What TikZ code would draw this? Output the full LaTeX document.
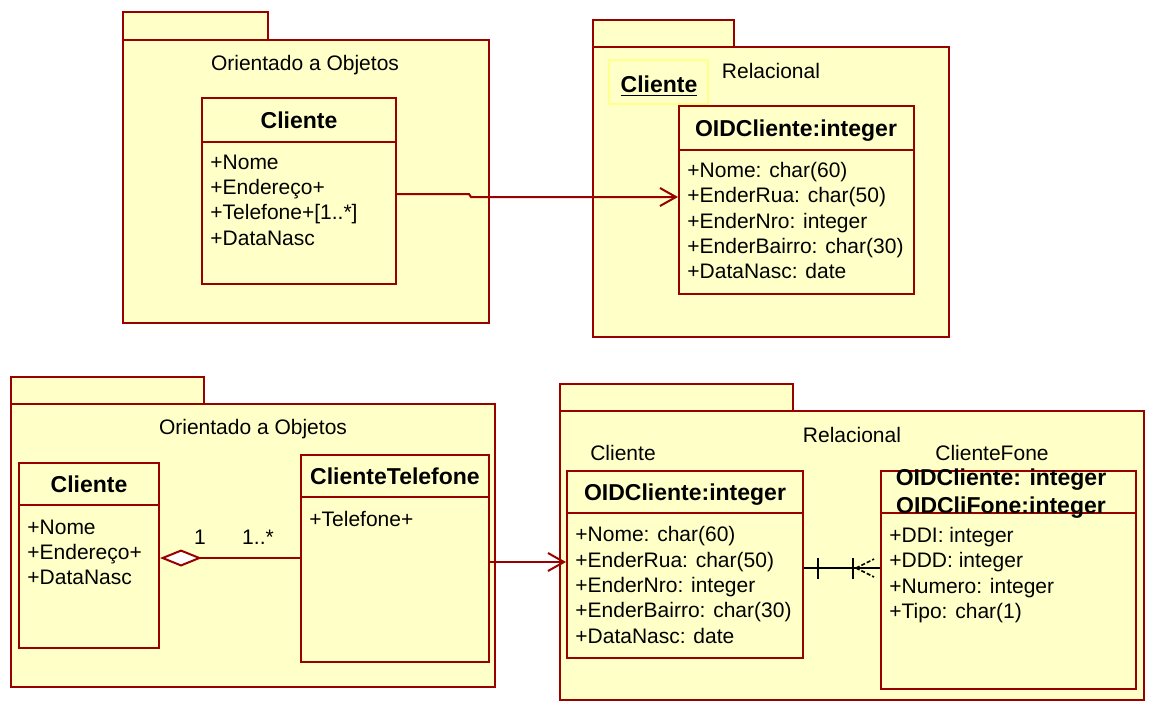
\documentclass[tikz,border=0pt]{standalone}
\usepackage{fontspec}
\setmainfont{Liberation Sans}
\usetikzlibrary{arrows.meta,fit}
\definecolor{umlred}{RGB}{153,0,0}
\definecolor{umlfill}{RGB}{255,255,200}
\definecolor{notebox}{RGB}{255,255,140}
\begin{document}
\begin{tikzpicture}[x=0.5pt, y=-0.5pt] % 1 единица = 1 пиксель, y вниз
\tikzstyle{pkg} = [draw=umlred, fill=umlfill, line width=1pt, inner sep=0pt] % пакет
\tikzstyle{cls} = [draw=umlred, fill=umlfill, line width=1pt, inner sep=0pt] % класс
\tikzstyle{sep} = [draw=umlred, line width=1pt] % разделитель в классе
\tikzstyle{attr} = [anchor=base west, inner sep=0pt, font=\fontsize{10.5}{12}\selectfont] % атрибут
\tikzstyle{ttl} = [anchor=base, inner sep=0pt, font=\bfseries\fontsize{11.5}{13}\selectfont] % имя класса
\tikzstyle{lbl} = [anchor=base, inner sep=0pt, font=\fontsize{10.5}{12}\selectfont] % имя пакета
\tikzstyle{assoc} = [draw=umlred, line width=1pt, -{Straight Barb[length=8pt,width=9pt]}]
\useasboundingbox[fill=white] (0,0) rectangle (1156,714);
% верхний левый пакет
\node[pkg, fit={(123,12)(268,40)}] (tabA) {};
\node[pkg, fit={(123,40)(489,323)}] (pkgA) {};
\node[lbl] (nameA) at (305,70) {Orientado a Objetos};
\node[cls, fit={(202,98)(396,284)}] (cliA) {};
\draw[sep] (cliA.west |- 0,142) -- (cliA.east |- 0,142);
\node[ttl] (ttlA) at (299,128) {Cliente};
\node[attr] (a1) at (210,169) {+Nome};
\node[attr] (a2) at (210,194) {+Endereço+};
\node[attr] (a3) at (210,219) {+Telefone+[1..*]};
\node[attr] (a4) at (210,245) {+DataNasc};
% верхний правый пакет
\node[pkg, fit={(593,20)(734,47)}] (tabB) {};
\node[pkg, fit={(593,47)(949,337)}] (pkgB) {};
\node[lbl] (nameB) at (771,78) {Relacional};
\node[draw=notebox, line width=1pt, inner sep=0pt, fit={(609,60)(708,104)}] (noteB) {};
\node[ttl] (ttlNote) at (659,92) {\underline{Cliente}};
\node[cls, fit={(679,106)(914,294)}] (oidB) {};
\draw[sep] (oidB.west |- 0,150) -- (oidB.east |- 0,150);
\node[ttl] (ttlB) at (796,136) {OIDCliente:integer};
\node[attr] (b1) at (687,177) {+Nome: char(60)};
\node[attr] (b2) at (687,202) {+EnderRua: char(50)};
\node[attr] (b3) at (687,228) {+EnderNro: integer};
\node[attr] (b4) at (687,253) {+EnderBairro: char(30)};
\node[attr] (b5) at (687,278) {+DataNasc: date};
% нижний левый пакет
\node[pkg, fit={(11,377)(204,404)}] (tabC) {};
\node[pkg, fit={(11,404)(495,687)}] (pkgC) {};
\node[lbl] (nameC) at (253,434) {Orientado a Objetos};
\node[cls, fit={(19,463)(159,648)}] (cliC) {};
\draw[sep] (cliC.west |- 0,505) -- (cliC.east |- 0,505);
\node[ttl] (ttlC) at (89,492) {Cliente};
\node[attr] (c1) at (27,534) {+Nome};
\node[attr] (c2) at (27,559) {+Endereço+};
\node[attr] (c3) at (27,584) {+DataNasc};
\node[cls, fit={(301,455)(489,662)}] (telC) {};
\draw[sep] (telC.west |- 0,497) -- (telC.east |- 0,497);
\node[ttl] (ttlTel) at (395,484) {ClienteTelefone};
\node[attr] (t1) at (309,526) {+Telefone+};
% нижний правый пакет
\node[pkg, fit={(560,384)(793,411)}] (tabD) {};
\node[pkg, fit={(560,411)(1144,700)}] (pkgD) {};
\node[lbl] (nameD) at (852,442) {Relacional};
\node[lbl] (nameCli) at (623,460) {Cliente};
\node[lbl] (nameFone) at (992,460) {ClienteFone};
\node[cls, fit={(567,471)(803,658)}] (cliD) {};
\draw[sep] (cliD.west |- 0,513) -- (cliD.east |- 0,513);
\node[ttl] (ttlD) at (685,500) {OIDCliente:integer};
\node[attr] (d1) at (575,541) {+Nome: char(60)};
\node[attr] (d2) at (575,567) {+EnderRua: char(50)};
\node[attr] (d3) at (575,592) {+EnderNro: integer};
\node[attr] (d4) at (575,617) {+EnderBairro: char(30)};
\node[attr] (d5) at (575,643) {+DataNasc: date};
\node[cls, fit={(881,471)(1136,689)}] (foneD) {};
\draw[sep] (foneD.west |- 0,513) -- (foneD.east |- 0,513);
\node[ttl] (ttlF1) at (1001,485) {OIDCliente: integer};
\node[ttl] (ttlF2) at (1001,513) {OIDCliFone:integer};
\node[attr] (f1) at (889,542) {+DDI: integer};
\node[attr] (f2) at (889,567) {+DDD: integer};
\node[attr] (f3) at (889,593) {+Numero: integer};
\node[attr] (f4) at (889,618) {+Tipo: char(1)};
% связи
\draw[assoc] ([yshift=-1.5pt]cliA.east) -- ++(72,0) -- ++(2,3) coordinate (jog) -- (jog -| oidB.west);
\draw[assoc] ([yshift=-1.75pt]telC.east) coordinate (s1) -- (s1 -| cliD.west);
\draw[draw=umlred, line width=1pt, {Diamond[fill=white, length=21pt, width=8.5pt]}-] ([yshift=-1.25pt]cliC.east) coordinate (s2) -- (s2 -| telC.west);
\node[lbl] (m1) at (200,544) {1};
\node[lbl] (m2) at (258,544) {1..*};
\draw[line width=0.8pt] ([yshift=-1.75pt]cliD.east) coordinate (r1) -- (r1 -| foneD.west) coordinate (r2);
\draw[line width=0.8pt] (r1) ++(14,-10) -- ++(0,21); % одна
\draw[line width=0.8pt] (r2) ++(-27,-10) -- ++(0,21);
\draw[line width=0.8pt, dash pattern=on 2pt off 1pt] (r2) ++(-24,0) -- ++(18,-9); % много
\draw[line width=0.8pt, dash pattern=on 2pt off 1pt] (r2) ++(-24,0) -- ++(18,9);
\end{tikzpicture}
\end{document}
